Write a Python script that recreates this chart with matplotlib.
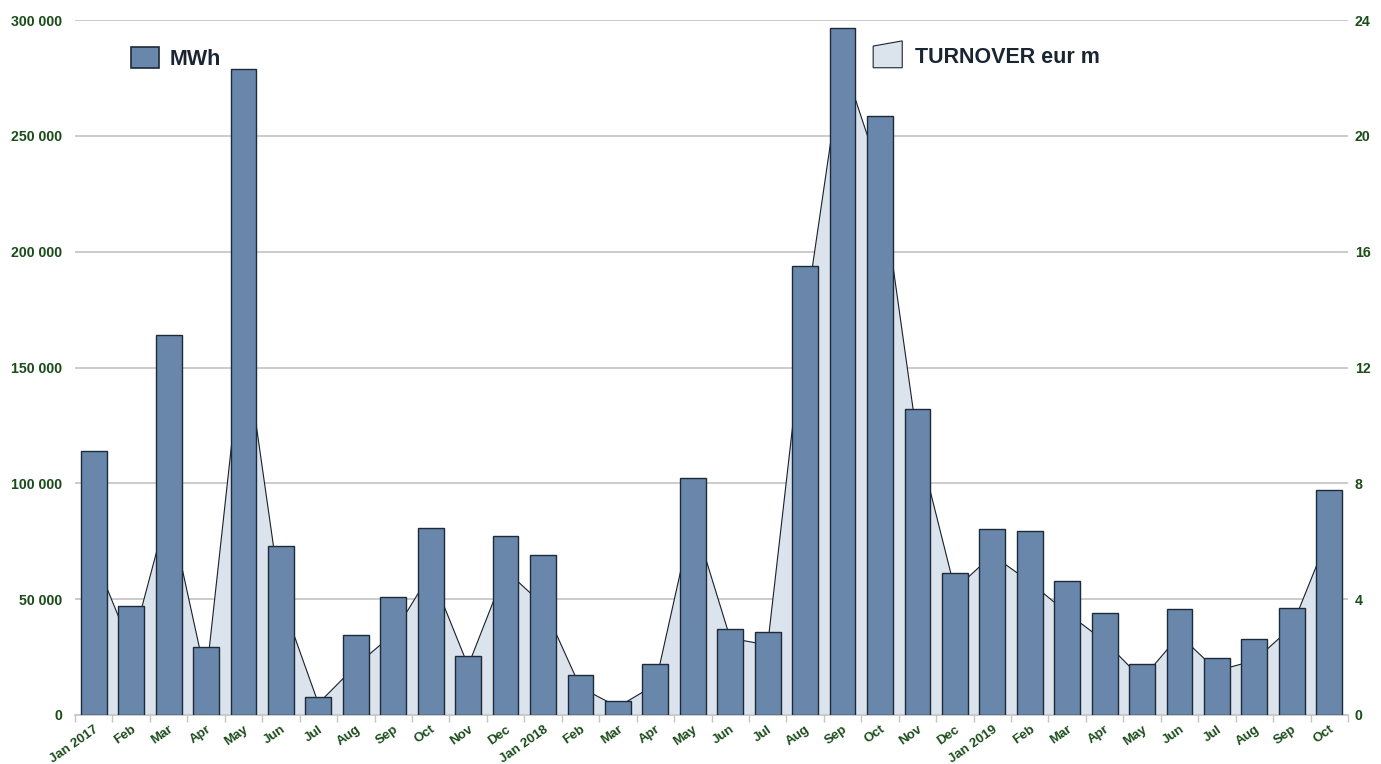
import matplotlib.pyplot as plt
import numpy as np
from matplotlib.patches import Polygon
from matplotlib.legend_handler import HandlerPatch
from matplotlib.ticker import FuncFormatter

plt.rcParams['font.family'] = ['Liberation Sans', 'DejaVu Sans']

months = ['Jan 2017', 'Feb', 'Mar', 'Apr', 'May', 'Jun', 'Jul', 'Aug', 'Sep', 'Oct', 'Nov', 'Dec',
          'Jan 2018', 'Feb', 'Mar', 'Apr', 'May', 'Jun', 'Jul', 'Aug', 'Sep', 'Oct', 'Nov', 'Dec',
          'Jan 2019', 'Feb', 'Mar', 'Apr', 'May', 'Jun', 'Jul', 'Aug', 'Sep', 'Oct']

# MWh (left axis)
mwh = [114000, 47000, 164000, 29400, 278800, 72800, 7800, 34400, 50800, 80900, 25600, 77400,
       68900, 17400, 6000, 22000, 102300, 37100, 36000, 193800, 296400, 258400, 131900, 61400,
       80400, 79400, 57700, 43900, 22200, 45800, 24500, 32700, 46200, 97100]

# turnover, eur m (right axis)
turnover = [5.5, 2.33, 7.2, 1.28, 13.1, 4.03, 0.4, 1.7, 2.8, 4.9, 1.7, 5.0,
            3.81, 0.95, 0.28, 1.05, 6.85, 2.65, 2.42, 13.75, 22.6, 18.7, 9.5, 4.34,
            5.52, 4.6, 3.52, 2.55, 1.24, 2.76, 1.53, 1.88, 3.04, 6.25]

label_color = '#1b4d1b'
bar_color = '#6987ab'
area_color = '#dbe3ec'


class AreaHandler(HandlerPatch):
    # legend icon with slanted top, like the original chart
    def create_artists(self, legend, orig_handle, xdescent, ydescent, width, height, fontsize, trans):
        x0, y0 = -xdescent, -ydescent - height * 0.1
        pts = [(x0, y0), (x0 + width, y0), (x0 + width, y0 + height * 1.3), (x0, y0 + height * 1.05)]
        p = Polygon(pts, closed=True, facecolor=area_color, edgecolor='#1a2533', linewidth=0.8)
        p.set_transform(trans)
        return [p]


fig = plt.figure(figsize=(13.81, 7.64), dpi=100)
ax2 = fig.add_axes([75 / 1381, 49 / 764, 1273 / 1381, 695 / 764])
ax = ax2.twinx()
# bars must sit above the area
ax.set_zorder(ax2.get_zorder() + 1)
ax.patch.set_visible(False)

x = np.arange(len(months))

# area on right axis
ax2.set_axisbelow(True)
ax2.yaxis.grid(True, color='#bdbdbd', linewidth=1.1)
area = ax2.fill_between(x, turnover, 0, facecolor=area_color, edgecolor='none', zorder=1)
ax2.plot(x, turnover, color='#1a1f2a', linewidth=0.8, zorder=2)
ax2.set_ylim(0, 24)
ax2.set_yticks(np.arange(0, 25, 4))

# bars on left axis
bars = ax.bar(x, mwh, width=0.69, color=bar_color, edgecolor='#1d2a3a', linewidth=1.0, zorder=3)
ax.set_ylim(0, 300000)
ax.set_yticks(np.arange(0, 300001, 50000))
ax.yaxis.set_major_formatter(FuncFormatter(lambda v, p: f'{int(v):,}'.replace(',', ' ')))

ax.set_xlim(-0.5, len(months) - 0.5)

# move axes sides: bar axis ticks on left, area axis on right
ax.yaxis.tick_left()
ax2.yaxis.tick_right()
for a in (ax, ax2):
    for s in a.spines.values():
        s.set_visible(False)
ax2.spines['bottom'].set_visible(True)
ax2.spines['bottom'].set_color('#c4c4c4')
ax2.spines['bottom'].set_linewidth(1.2)

ax.tick_params(axis='y', length=0, pad=9, labelsize=10.2, labelcolor=label_color)
ax2.tick_params(axis='y', length=0, pad=5, labelsize=10.2, labelcolor=label_color)
for t in ax.get_yticklabels() + ax2.get_yticklabels():
    t.set_fontweight('bold')

ax2.set_xticks(x)
ax2.set_xticklabels(months, rotation=35, ha='right', va='top', rotation_mode='anchor',
                    fontsize=9.5, fontweight='bold', color=label_color)
ax2.set_xticks(np.arange(-0.5, len(months)), minor=True)
ax2.tick_params(axis='x', which='major', length=0, pad=6)
ax2.tick_params(axis='x', which='minor', length=5, color='#c4c4c4', width=1.0)
ax.tick_params(axis='x', which='both', bottom=False, labelbottom=False)

leg1 = ax.legend([bars], ['MWh'], loc='upper left', bbox_to_anchor=(0.044, 0.961), frameon=False,
                 prop={'weight': 'bold', 'size': 15.5}, labelcolor='#1a2533',
                 handlelength=1.3, handleheight=1.1, handletextpad=0.5, borderpad=0, borderaxespad=0)
leg2 = ax.legend([area], ['TURNOVER eur m'], loc='upper left', bbox_to_anchor=(0.627, 0.964),
                 frameon=False, prop={'weight': 'bold', 'size': 15.5}, labelcolor='#1a2533',
                 handlelength=1.35, handleheight=1.1, handletextpad=0.6, borderpad=0, borderaxespad=0,
                 handler_map={type(area): AreaHandler()})
ax.add_artist(leg1)
for p in leg1.get_patches():
    p.set_linewidth(1.2)

fig.savefig('out.png', dpi=100)
